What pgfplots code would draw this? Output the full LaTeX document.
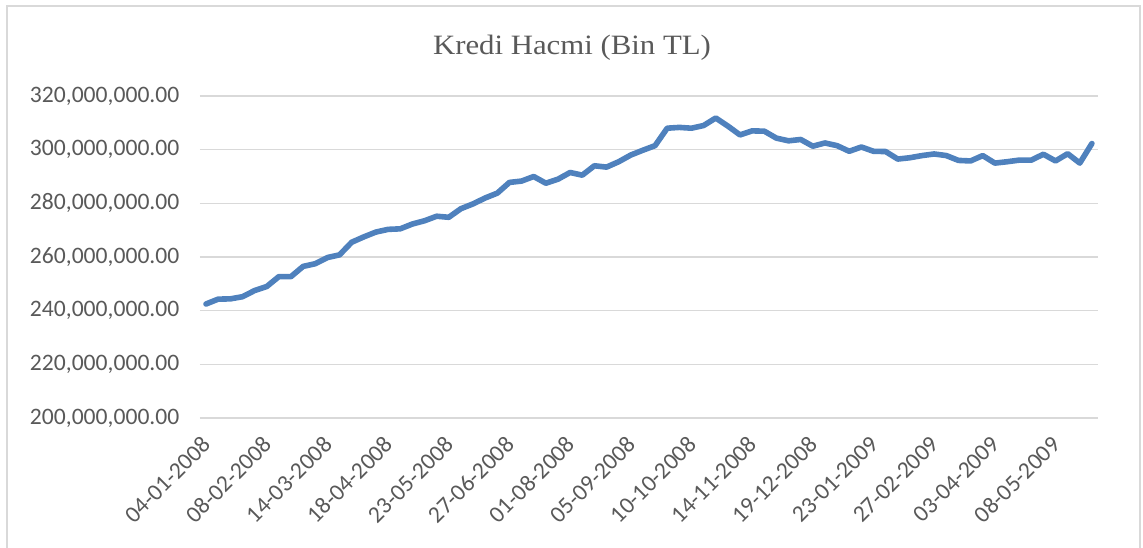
\documentclass[border=0pt]{standalone}
\usepackage{pgfplots}
\pgfplotsset{compat=1.18}
\usepackage{pgfplotstable}
\usepackage{fontspec}
\setmainfont{Carlito}
\newfontfamily\carlito{Carlito}
\newfontfamily\titlefont[FakeStretch=1.1]{Liberation Serif}
\definecolor{linec}{HTML}{4F81BD}
\definecolor{gridc}{HTML}{D9D9D9}
\definecolor{labelc}{HTML}{595959}
\definecolor{borderc}{HTML}{D9D9D9}
\pgfplotstableread{
i v
0 242500000
1 244300000
2 244400000
3 245200000
4 247500000
5 249000000
6 252700000
7 252700000
8 256500000
9 257500000
10 259800000
11 260800000
12 265500000
13 267500000
14 269300000
15 270300000
16 270500000
17 272300000
18 273500000
19 275200000
20 274800000
21 278000000
22 279800000
23 282000000
24 283800000
25 287800000
26 288300000
27 290000000
28 287500000
29 289000000
30 291500000
31 290500000
32 294000000
33 293500000
34 295500000
35 298000000
36 299800000
37 301500000
38 308000000
39 308300000
40 308000000
41 309000000
42 311800000
43 308800000
44 305500000
45 307000000
46 306900000
47 304300000
48 303300000
49 303800000
50 301300000
51 302500000
52 301500000
53 299400000
54 301000000
55 299400000
56 299300000
57 296500000
58 297000000
59 297800000
60 298400000
61 297800000
62 296000000
63 295800000
64 297800000
65 295000000
66 295500000
67 296100000
68 296100000
69 298300000
70 295800000
71 298500000
72 295000000
73 302300000
}\kredi
\begin{document}
\begin{tikzpicture}
\begin{scope}[x=0.75pt,y=0.75pt]
\useasboundingbox (0,0) rectangle (1143,-547);
\draw[color=borderc, line width=1.5pt] (7,-550) -- (7,-6) -- (1140,-6) -- (1140,-550);
\node[anchor=base, text=labelc, font=\titlefont\fontsize{21}{25}\selectfont] at (572,-54.3) {Kredi Hacmi (Bin TL)};
\end{scope}
\begin{axis}[
  at={(150pt,-313.5pt)}, anchor=south west,
  scale only axis, width=673.5pt, height=241.5pt,
  xmin=-0.5, xmax=73.5,
  ymin=200000000, ymax=320000000,
  axis line style={draw=none},
  major tick length=0pt,
  ymajorgrids, grid style={color=gridc, line width=1.1pt},
  ytick={200000000,220000000,240000000,260000000,280000000,300000000,320000000},
  yticklabels={{200,000,000.00},{220,000,000.00},{240,000,000.00},{260,000,000.00},{280,000,000.00},{300,000,000.00},{320,000,000.00}},
  yticklabel style={font=\carlito\fontsize{17.7}{20}\selectfont, text=labelc, anchor=east, xshift=-12pt},
  xtick={0,5,10,15,20,25,30,35,40,45,50,55,60,65,70},
  xticklabels={04-01-2008,08-02-2008,14-03-2008,18-04-2008,23-05-2008,27-06-2008,01-08-2008,05-09-2008,10-10-2008,14-11-2008,19-12-2008,23-01-2009,27-02-2009,03-04-2009,08-05-2009},
  xticklabel style={font=\carlito\fontsize{17.7}{20}\selectfont, text=labelc, xshift=-9.75pt, yshift=-4.5pt, rotate=45, anchor=east, xshift=2pt, yshift=-16pt},
  scaled y ticks=false,
  clip=false,
]
\addplot[color=linec, line width=4.2pt, line join=round, line cap=round, mark=none] table[x=i, y=v] {\kredi};
\end{axis}
\end{tikzpicture}
\end{document}
